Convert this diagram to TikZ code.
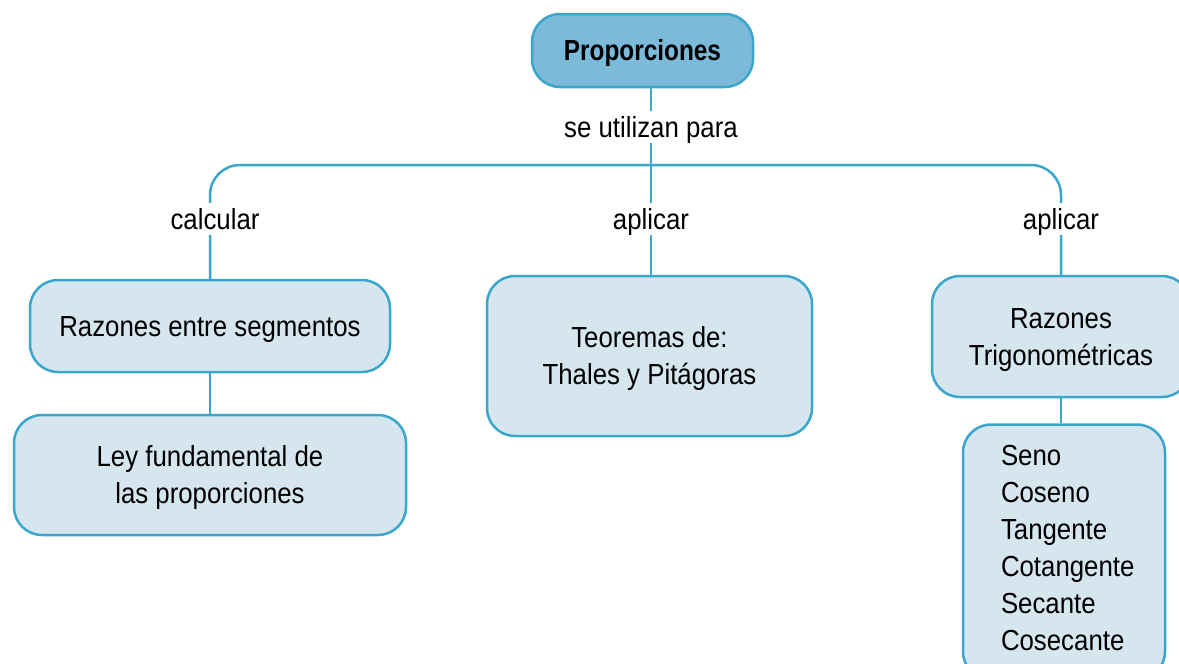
\documentclass[tikz,border=0pt]{standalone}
\usepackage{fontspec}
\setmainfont{Liberation Sans}[FakeStretch=0.89]
\newfontfamily\boldcond{Liberation Sans}[FakeStretch=0.84]
\definecolor{lineblue}{HTML}{3AA6CC}
\definecolor{boxfill}{HTML}{D5E6EF}
\definecolor{topfill}{HTML}{7BBAD8}
\begin{document}
\begin{tikzpicture}[x=1pt,y=-1pt,
  txt/.style={font=\fontsize{29}{37}\selectfont},
  oneline/.style={text height=24pt, text depth=3.2pt},
  twoline/.style={text height=61pt, text depth=3.2pt},
  box/.style={txt, draw=lineblue, fill=boxfill, line width=2.5pt, rounded corners=28pt, align=center, inner sep=0pt},
  lbl/.style={txt, oneline, fill=white, inner xsep=4pt, inner ysep=2pt},
  conn/.style={draw=lineblue, line width=2.5pt}]
\useasboundingbox (0,0) rectangle (1179,664);
\fill[white] (0,0) rectangle (1179,664);
% boxes
\node[box, oneline, fill=topfill, minimum width=221pt, minimum height=73pt] (P) at (642.5,50.5) {\boldcond\bfseries Proporciones};
\node[box, oneline, minimum width=360pt, minimum height=92pt] (RS) at (210,326) {Razones entre segmentos};
\node[box, twoline, minimum width=392pt, minimum height=120pt] (LF) at (210,475) {Ley fundamental de\\las proporciones};
\node[box, twoline, minimum width=325pt, minimum height=160pt] (T) at (649.5,356) {Teoremas de:\\Thales y Pitágoras};
\node[box, twoline, minimum width=258pt, minimum height=121pt] (RT) at (1061,336.5) {Razones\\Trigonométricas};
\node[box, align=left, text height=24pt, text depth=197.2pt, text width=126pt, inner xsep=38pt, minimum width=202pt, minimum height=255pt] (TL) at (1064,552) {Seno\\Coseno\\Tangente\\Cotangente\\Secante\\Cosecante};
% connectors
\coordinate (hub) at (651,165);
\draw[conn] (P.south -| hub) -- (T.north -| hub);
\draw[conn, rounded corners=30pt] (RS.north) |- (hub) -| (RT.north);
\draw[conn] (RS.south) -- (LF.north);
\draw[conn] (RT.south) -- (TL.north -| RT.south);
% labels
\node[lbl] (l0) at (651,127) {se utilizan para};
\node[lbl] (l1) at (215,219) {calcular};
\node[lbl] (l2) at (651,219) {aplicar};
\node[lbl] (l3) at (1061,219) {aplicar};
\end{tikzpicture}
\end{document}
